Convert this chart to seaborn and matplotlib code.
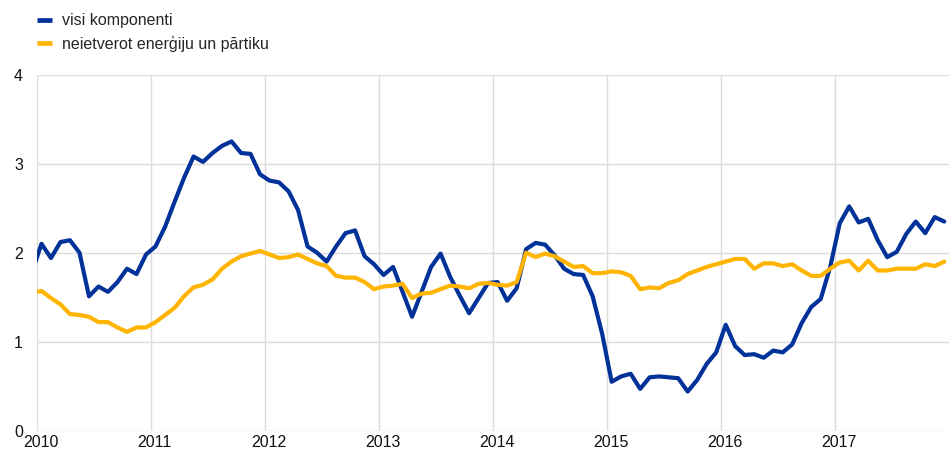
import numpy as np
import pandas as pd
import matplotlib
matplotlib.use("Agg")
import matplotlib.pyplot as plt
import matplotlib.transforms as mtransforms
from matplotlib.lines import Line2D
import seaborn as sns

# Monthly values, Dec 2009 (partly visible at the left edge) to Dec 2017
labels = ["visi komponenti", "neietverot enerģiju un pārtiku"]
colors = ["#003299", "#FFB400"]

visi = [1.78,
        2.10, 1.94, 2.12, 2.14, 2.00, 1.51, 1.62, 1.56, 1.67, 1.82, 1.76, 1.98,
        2.07, 2.29, 2.57, 2.84, 3.08, 3.02, 3.12, 3.20, 3.25, 3.12, 3.11, 2.88,
        2.81, 2.79, 2.69, 2.48, 2.07, 2.00, 1.90, 2.07, 2.22, 2.25, 1.96, 1.87,
        1.75, 1.84, 1.56, 1.28, 1.56, 1.84, 1.99, 1.73, 1.52, 1.32, 1.49, 1.66,
        1.67, 1.46, 1.60, 2.04, 2.11, 2.09, 1.97, 1.82, 1.76, 1.75, 1.51, 1.09,
        0.55, 0.61, 0.64, 0.47, 0.60, 0.61, 0.60, 0.59, 0.44, 0.57, 0.75, 0.88,
        1.19, 0.95, 0.85, 0.86, 0.82, 0.90, 0.88, 0.97, 1.21, 1.39, 1.48, 1.84,
        2.33, 2.52, 2.34, 2.38, 2.14, 1.95, 2.01, 2.21, 2.35, 2.22, 2.40, 2.35]

pamata = [1.55,
          1.57, 1.49, 1.42, 1.31, 1.30, 1.28, 1.22, 1.22, 1.16, 1.11, 1.16, 1.16,
          1.22, 1.30, 1.38, 1.51, 1.61, 1.64, 1.70, 1.82, 1.90, 1.96, 1.99, 2.02,
          1.98, 1.94, 1.95, 1.98, 1.93, 1.88, 1.85, 1.74, 1.72, 1.72, 1.67, 1.59,
          1.62, 1.63, 1.65, 1.49, 1.54, 1.55, 1.59, 1.63, 1.62, 1.60, 1.65, 1.66,
          1.64, 1.63, 1.67, 2.00, 1.95, 1.99, 1.96, 1.90, 1.84, 1.85, 1.77, 1.77,
          1.79, 1.78, 1.74, 1.59, 1.61, 1.60, 1.66, 1.69, 1.76, 1.80, 1.84, 1.87,
          1.90, 1.93, 1.93, 1.82, 1.88, 1.88, 1.85, 1.87, 1.80, 1.74, 1.74, 1.82,
          1.89, 1.91, 1.80, 1.91, 1.80, 1.80, 1.82, 1.82, 1.82, 1.87, 1.85, 1.90]

years = list(range(2010, 2018))
y_ticks = [0, 1, 2, 3, 4]

# mid-month positions in decimal years
menesi = np.arange(-1, len(visi) - 1)
x = 2010 + (menesi + 0.5) / 12

df = pd.DataFrame({
    "x": np.concatenate([x, x]),
    "vertiba": visi + pamata,
    "serija": [labels[0]] * len(visi) + [labels[1]] * len(pamata),
})

sns.set_theme(style="white")
plt.rcParams["font.family"] = ["Liberation Sans", "DejaVu Sans"]

fig = plt.figure(figsize=(9.49, 4.54), dpi=100)
ax = fig.add_axes([0.0387, 0.0513, 0.9613, 0.7842])

sns.lineplot(data=df, x="x", y="vertiba", hue="serija", hue_order=labels,
             palette=colors, linewidth=3.0, ax=ax, legend=False)

ax.set_xlim(2010, 2018)
ax.set_ylim(0, 4)
ax.set_xticks(years)
ax.set_xticklabels([str(y) for y in years])
ax.set_yticks(y_ticks)
ax.set_xlabel("")
ax.set_ylabel("")
ax.grid(True, color="#dcdcdc", linewidth=1)
ax.set_axisbelow(True)
for s in ax.spines.values():
    s.set_visible(False)
ax.tick_params(axis="both", length=0, labelsize=11.5, labelcolor="#111111")
ax.tick_params(axis="x", pad=3)
ax.tick_params(axis="y", pad=10)

offset = mtransforms.ScaledTranslation(4 / 100, 0, fig.dpi_scale_trans)
for lbl in ax.get_xticklabels():
    lbl.set_transform(lbl.get_transform() + offset)

handles = [Line2D([0], [0], color=c, linewidth=3.4, solid_capstyle="butt") for c in colors]
fig.legend(handles, labels, loc="upper left", bbox_to_anchor=(0.0393, 0.971),
           frameon=False, fontsize=11.5, handlelength=0.95, handletextpad=0.6,
           labelspacing=0.43, borderaxespad=0, borderpad=0)

fig.savefig("out.png", dpi=100)
